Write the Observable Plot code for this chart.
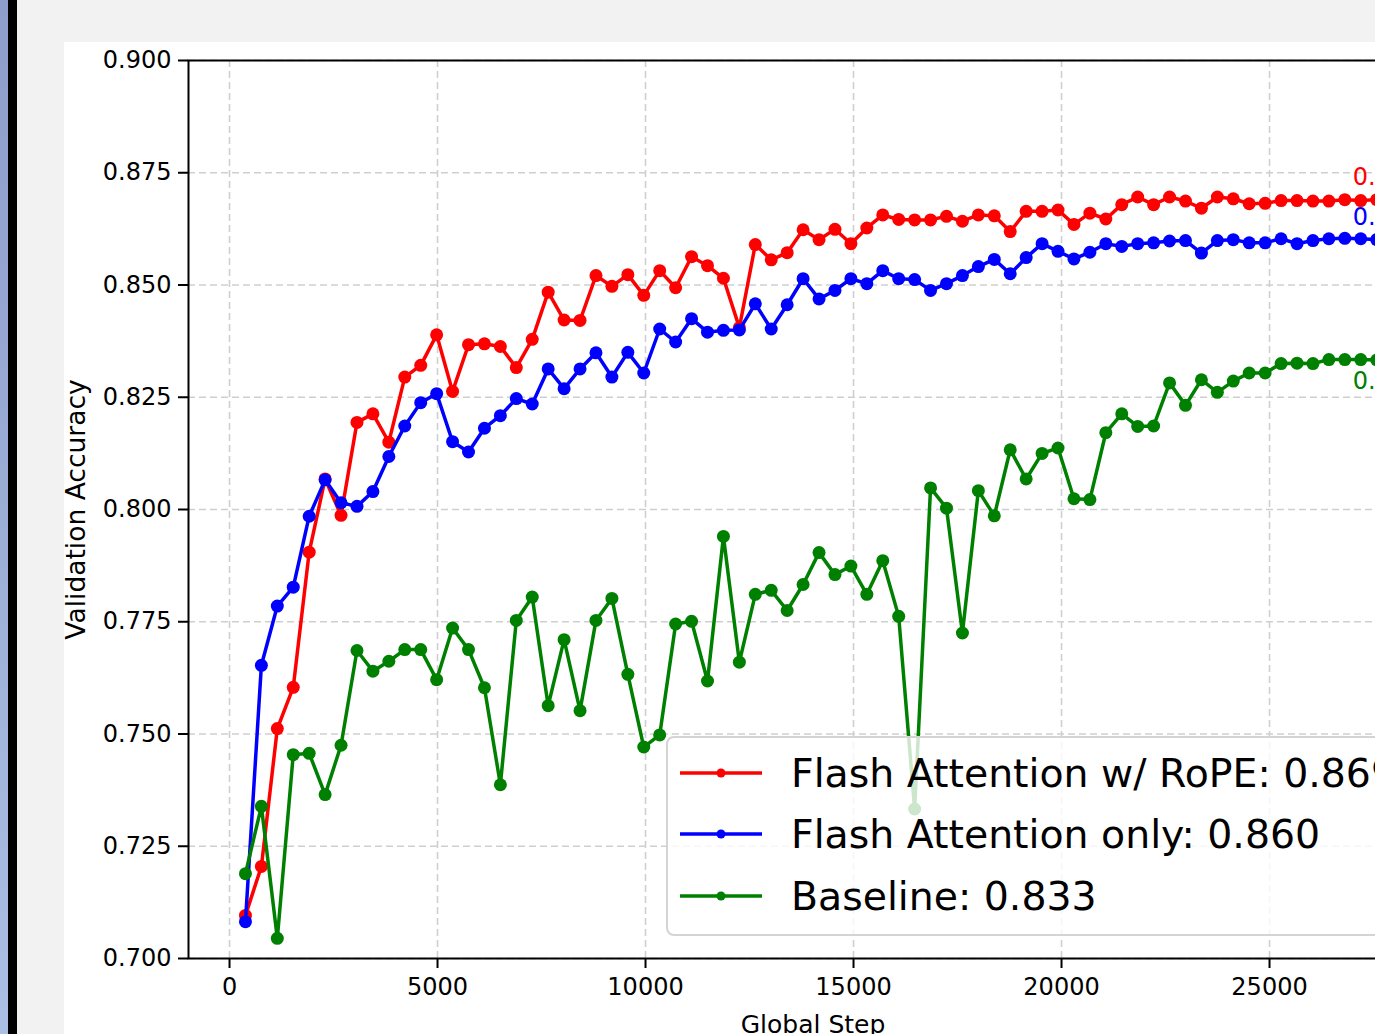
<!DOCTYPE html>
<html><head><meta charset="utf-8">
<script src="https://cdn.jsdelivr.net/npm/d3@7"></script>
<script src="https://cdn.jsdelivr.net/npm/@observablehq/plot@0.6"></script>
<style>
html,body{margin:0;padding:0}
body{width:1375px;height:1034px;overflow:hidden;background:#f2f2f2;position:relative;font-family:"DejaVu Sans",sans-serif}
#strip1{position:absolute;left:0;top:0;width:8px;height:1034px;background:linear-gradient(#8c9ec9,#abbee3)}
#strip2{position:absolute;left:8px;top:0;width:9px;height:1034px;background:#000}
#fig{position:absolute;left:64px;top:42px;width:1500px;height:1100px;background:#fff}
#legend{position:absolute;left:666px;top:736px;width:757px;height:200px;box-sizing:border-box;border:2px solid #d4d4d4;border-radius:8px;background:rgba(255,255,255,0.8)}
.lrow{position:absolute;left:12px;height:50px;display:flex;align-items:center;white-space:nowrap}
.lrow span{font-size:39.4px;color:#000;margin-left:29px;font-family:"DejaVu Sans",sans-serif}
</style></head><body>
<div id="strip1"></div><div id="strip2"></div>
<div id="fig"></div>
<div id="legend"></div>
<script>
// ---- data ----
const seriesNames = ["Flash Attention w/ RoPE", "Flash Attention only", "Baseline"];
const seriesColors = ["#ff0000", "#0000ff", "#008000"];
const steps = Array.from({length: 72}, (_, i) => (i + 1) * 383);
const ropeAcc = [
 0.7096,0.7205,0.7512,0.7604,0.7905,0.8068,0.7987,0.8194,0.8213,0.8150,
 0.8295,0.8321,0.8389,0.8263,0.8367,0.8369,0.8363,0.8316,0.8379,0.8484,
 0.8422,0.8421,0.8521,0.8497,0.8523,0.8477,0.8532,0.8494,0.8563,0.8543,
 0.8515,0.8405,0.8590,0.8556,0.8572,0.8623,0.8601,0.8624,0.8592,0.8627,
 0.8656,0.8646,0.8645,0.8645,0.8653,0.8642,0.8656,0.8654,0.8619,0.8664,
 0.8664,0.8667,0.8635,0.8660,0.8647,0.8679,0.8696,0.8679,0.8696,0.8687,
 0.8671,0.8696,0.8692,0.8681,0.8682,0.8688,0.8688,0.8687,0.8687,0.8690,
 0.8688,0.8690];
const flashAcc = [
 0.7082,0.7653,0.7785,0.7827,0.7985,0.8066,0.8015,0.8007,0.8040,0.8118,
 0.8186,0.8238,0.8258,0.8151,0.8128,0.8181,0.8209,0.8247,0.8235,0.8313,
 0.8269,0.8313,0.8349,0.8295,0.8350,0.8304,0.8402,0.8373,0.8425,0.8395,
 0.8399,0.8400,0.8458,0.8402,0.8456,0.8514,0.8469,0.8488,0.8514,0.8503,
 0.8532,0.8514,0.8512,0.8488,0.8503,0.8521,0.8541,0.8557,0.8525,0.8561,
 0.8592,0.8575,0.8558,0.8573,0.8592,0.8586,0.8592,0.8594,0.8598,0.8599,
 0.8571,0.8599,0.8601,0.8594,0.8594,0.8603,0.8592,0.8599,0.8603,0.8604,
 0.8603,0.8601];
const baseAcc = [
 0.7189,0.7339,0.7045,0.7454,0.7457,0.7365,0.7475,0.7686,0.7640,0.7662,
 0.7688,0.7688,0.7621,0.7736,0.7688,0.7603,0.7387,0.7753,0.7805,0.7563,
 0.7710,0.7552,0.7753,0.7802,0.7633,0.7471,0.7498,0.7745,0.7751,0.7618,
 0.7940,0.7660,0.7811,0.7820,0.7775,0.7833,0.7904,0.7855,0.7874,0.7811,
 0.7886,0.7762,0.7333,0.8048,0.8003,0.7725,0.8042,0.7986,0.8133,0.8068,
 0.8125,0.8137,0.8024,0.8022,0.8171,0.8213,0.8185,0.8186,0.8282,0.8232,
 0.8289,0.8261,0.8286,0.8304,0.8304,0.8325,0.8326,0.8325,0.8334,0.8334,
 0.8334,0.8333];
const xTicks = [0, 5000, 10000, 15000, 20000, 25000];
const yTicks = [0.700, 0.725, 0.750, 0.775, 0.800, 0.825, 0.850, 0.875, 0.900];
const labelAbove = [true, true, false];

// ---- build ----
const allValues = [ropeAcc, flashAcc, baseAcc];
const fmt = d3.format(".3f");
const series = seriesNames.map((name, j) => ({
  name, color: seriesColors[j], above: labelAbove[j],
  rows: steps.map((s, i) => ({step: s, acc: allValues[j][i], name}))
}));

const marks = [
  Plot.gridX(xTicks, {stroke: "#cfcfcf", strokeOpacity: 1, strokeWidth: 1.6, strokeDasharray: "7,4"}),
  Plot.gridY(yTicks, {stroke: "#cfcfcf", strokeOpacity: 1, strokeWidth: 1.6, strokeDasharray: "7,4"})
];
for (const s of series) {
  marks.push(Plot.line(s.rows, {x: "step", y: "acc", stroke: s.color, strokeWidth: 3.5}));
  marks.push(Plot.dot(s.rows, {x: "step", y: "acc", fill: s.color, r: 6.5}));
}
for (const s of series) {
  const last = s.rows[s.rows.length - 1];
  marks.push(Plot.text([last], {
    x: "step", y: "acc", text: d => fmt(d.acc), fill: s.color, fontSize: 24,
    textAnchor: "start", dx: -24,
    lineAnchor: s.above ? "bottom" : "top", dy: s.above ? -15 : 12
  }));
}
marks.push(
  Plot.frame({stroke: "#000", strokeWidth: 2}),
  Plot.axisX(xTicks, {tickSize: 10, tickPadding: 9, tickFormat: d => String(d), label: null, fontSize: 24, strokeWidth: 2}),
  Plot.axisY(yTicks, {tickSize: 10, tickPadding: 7, tickFormat: fmt, label: null, fontSize: 24, strokeWidth: 2}),
  Plot.text(["Validation Accuracy"], {frameAnchor: "left", textAnchor: "middle", lineAnchor: "middle", rotate: -90, dx: -112, fontSize: 26.5}),
  Plot.text(["Global Step"], {frameAnchor: "bottom", textAnchor: "middle", lineAnchor: "middle", dy: 66, fontSize: 25})
);

const chart = Plot.plot({
  width: 1420, height: 1000,
  marginLeft: 124, marginRight: 47, marginTop: 18, marginBottom: 84,
  style: {fontFamily: "DejaVu Sans", fontSize: "24px", color: "#000", background: "transparent", overflow: "visible", maxWidth: "none"},
  x: {domain: [-986, 29038]},
  y: {domain: [0.7, 0.9]},
  marks
});
document.getElementById("fig").appendChild(chart);

// ---- legend ----
const legend = document.getElementById("legend");
const rowCenters = [35, 96, 158];
series.forEach((s, j) => {
  const row = document.createElement("div");
  row.className = "lrow";
  row.style.top = (rowCenters[j] - 25) + "px";
  const ns = "http://www.w3.org/2000/svg";
  const svg = document.createElementNS(ns, "svg");
  svg.setAttribute("width", 82); svg.setAttribute("height", 20);
  const ln = document.createElementNS(ns, "line");
  ln.setAttribute("x1", 0); ln.setAttribute("x2", 82); ln.setAttribute("y1", 10); ln.setAttribute("y2", 10);
  ln.setAttribute("stroke", s.color); ln.setAttribute("stroke-width", 3.5);
  const c = document.createElementNS(ns, "circle");
  c.setAttribute("cx", 41); c.setAttribute("cy", 10); c.setAttribute("r", 4.5); c.setAttribute("fill", s.color);
  svg.appendChild(ln); svg.appendChild(c);
  const span = document.createElement("span");
  span.textContent = s.name + ": " + fmt(s.rows[s.rows.length - 1].acc);
  row.appendChild(svg); row.appendChild(span);
  legend.appendChild(row);
});
</script>
</body></html>
